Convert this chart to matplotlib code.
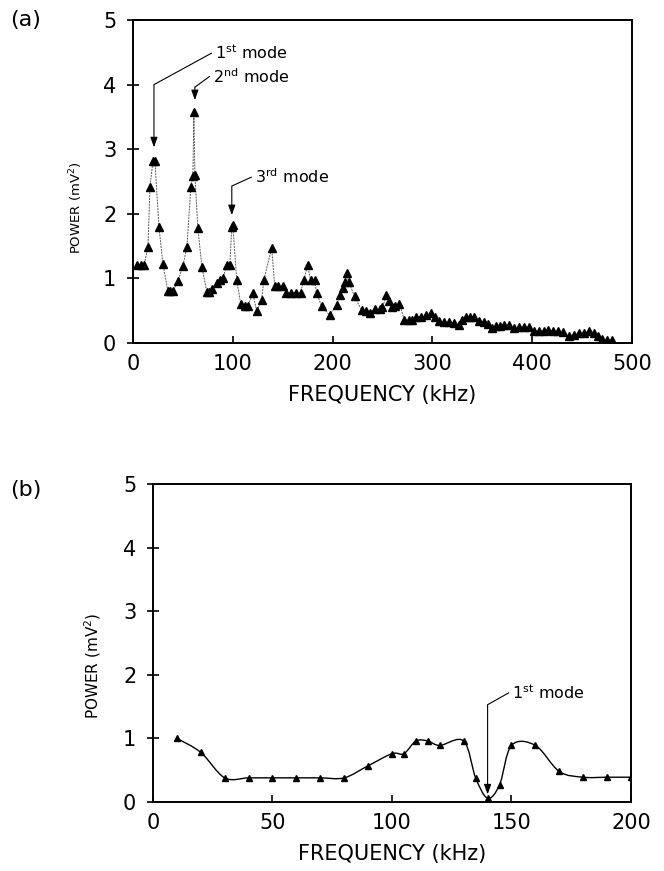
import numpy as np
import matplotlib
matplotlib.use("Agg")
import matplotlib.pyplot as plt
from matplotlib.path import Path
from matplotlib.patches import PathPatch

plt.rcParams.update({
    "font.family": "DejaVu Sans",
    "font.size": 12,
    "mathtext.default": "regular",
    "axes.linewidth": 1.4,
})

# ── (a) power spectrum, 0-500 kHz ────────────────────────────────────────────
freq_a = [4, 8, 11, 15, 17, 20, 22, 26, 30, 35, 37, 40, 45, 50, 54, 58, 60, 61,
          62, 65, 69, 74, 76, 79, 84, 87, 90, 94, 97, 99, 100, 104, 108, 112,
          115, 120, 124, 129, 131, 139, 142, 145, 150, 153, 158, 163, 168, 171,
          175, 178, 182, 184, 189, 197, 204, 207, 210, 212, 214, 216, 222, 229,
          233, 237, 242, 247, 250, 254, 257, 260, 263, 267, 272, 277, 280, 284,
          289, 294, 299, 303, 307, 312, 317, 322, 327, 330, 334, 338, 342, 347,
          352, 356, 360, 364, 368, 372, 377, 382, 387, 392, 397, 402, 407, 412,
          416, 421, 426, 431, 437, 442, 447, 452, 457, 462, 466, 470, 475, 480]
power_a = [1.2, 1.2, 1.2, 1.49, 2.42, 2.81, 2.81, 1.8, 1.22, 0.8, 0.8, 0.8,
           0.96, 1.19, 1.49, 2.42, 2.58, 3.58, 2.6, 1.78, 1.18, 0.79, 0.79,
           0.84, 0.93, 0.97, 1.0, 1.21, 1.21, 1.79, 1.82, 0.97, 0.6, 0.57, 0.57,
           0.77, 0.49, 0.67, 0.97, 1.47, 0.88, 0.88, 0.88, 0.78, 0.78, 0.78,
           0.78, 0.97, 1.2, 0.97, 0.97, 0.77, 0.57, 0.43, 0.59, 0.75, 0.85,
           0.95, 1.09, 0.95, 0.72, 0.51, 0.49, 0.47, 0.52, 0.52, 0.55, 0.74,
           0.65, 0.56, 0.58, 0.6, 0.36, 0.35, 0.36, 0.41, 0.41, 0.43, 0.47, 0.4,
           0.34, 0.32, 0.32, 0.31, 0.28, 0.35, 0.41, 0.41, 0.4, 0.34, 0.33, 0.3,
           0.23, 0.26, 0.26, 0.28, 0.28, 0.23, 0.24, 0.24, 0.24, 0.19, 0.19,
           0.19, 0.2, 0.18, 0.18, 0.17, 0.11, 0.13, 0.15, 0.15, 0.19, 0.16,
           0.11, 0.06, 0.05, 0.05]

# (label, arrow x, arrow tip y, arrow top y, elbow -> text anchor x, y)
modes_a = [
    ("1$^{st}$ mode", 21, 3.03, 4.0, 79, 4.49),
    ("2$^{nd}$ mode", 62, 3.76, 3.96, 77, 4.13),
    ("3$^{rd}$ mode", 99, 1.98, 2.43, 119, 2.57),
]

# ── (b) power spectrum, 0-200 kHz ────────────────────────────────────────────
freq_b = [10, 20, 30, 40, 50, 60, 70, 80, 90, 100, 105, 110, 115, 120, 130,
          135, 140, 145, 150, 160, 170, 180, 190, 200]
power_b = [1.0, 0.78, 0.38, 0.38, 0.38, 0.38, 0.38, 0.38, 0.57, 0.76, 0.76,
           0.96, 0.96, 0.89, 0.96, 0.38, 0.06, 0.27, 0.89, 0.89, 0.48, 0.39,
           0.39, 0.39]
modes_b = [("1$^{st}$ mode", 140, 0.12, 1.53, 149, 1.72)]


def smooth_path(x, y):
    """Catmull-Rom spline through the points, as a cubic Bezier path."""
    x = np.asarray(x, float)
    y = np.asarray(y, float)
    pts = np.column_stack([x, y])
    ext = np.vstack([pts[0], pts, pts[-1]])
    verts = [pts[0]]
    codes = [Path.MOVETO]
    for i in range(1, len(ext) - 2):
        p0, p1, p2, p3 = ext[i - 1], ext[i], ext[i + 1], ext[i + 2]
        c1 = p1 + (p2 - p0) / 6.0
        c2 = p2 - (p3 - p1) / 6.0
        verts += [c1, c2, p2]
        codes += [Path.CURVE4] * 3
    return Path(verts, codes)


def annotate_mode(ax, label, x, tip, top, tx, ty):
    ax.plot([x, tx], [top, ty], color="black", lw=0.8, solid_capstyle="butt")
    ax.annotate("", xy=(x, tip), xytext=(x, top),
                arrowprops=dict(arrowstyle="-|>,head_length=0.5,head_width=0.18",
                                color="black", lw=0.8, shrinkA=0, shrinkB=0))
    ax.text(tx + 3 * (ax.get_xlim()[1] / 500), ty, label, fontsize=11.5,
            ha="left", va="center")


def style_axes(ax, ylabel_size):
    ax.set_ylim(0, 5)
    ax.set_yticks([0, 1, 2, 3, 4, 5])
    ax.tick_params(direction="in", length=5, width=1.2, labelsize=15, pad=8)
    ax.tick_params(axis="y", direction="inout", length=8)
    ax.set_xlabel("FREQUENCY (kHz)", fontsize=15, labelpad=8)
    ax.set_ylabel("POWER (mV$^2$)", fontsize=ylabel_size)


fig = plt.figure(figsize=(6.64, 8.71), dpi=100)
fig.patch.set_facecolor("white")

# panel (a)
ax1 = fig.add_axes([0.2003, 0.6062, 0.7515, 0.3708])
ax1.plot(freq_a, power_a, color="0.35", lw=0.7, ls=(0, (2, 1)))
ax1.plot(freq_a, power_a, ls="none", marker="^", ms=5.5, color="black")
ax1.set_xlim(0, 500)
ax1.set_xticks([0, 100, 200, 300, 400, 500])
style_axes(ax1, 9.5)
ax1.yaxis.set_label_coords(-0.096, 0.42)
for m in modes_a:
    annotate_mode(ax1, *m)
fig.text(0.015, 0.977, "(a)", fontsize=16, va="center", ha="left")

# panel (b)
ax2 = fig.add_axes([0.2304, 0.0792, 0.7199, 0.3651])
ax2.add_patch(PathPatch(smooth_path(freq_b, power_b), fc="none",
                        ec="black", lw=1.0))
ax2.plot(freq_b, power_b, ls="none", marker="^", ms=4.5, color="black")
ax2.set_xlim(0, 200)
ax2.set_xticks([0, 50, 100, 150, 200])
style_axes(ax2, 11)
ax2.yaxis.set_label_coords(-0.105, 0.43)
for m in modes_b:
    annotate_mode(ax2, *m)
fig.text(0.015, 0.437, "(b)", fontsize=16, va="center", ha="left")

fig.savefig("out.png", dpi=100, facecolor="white")
